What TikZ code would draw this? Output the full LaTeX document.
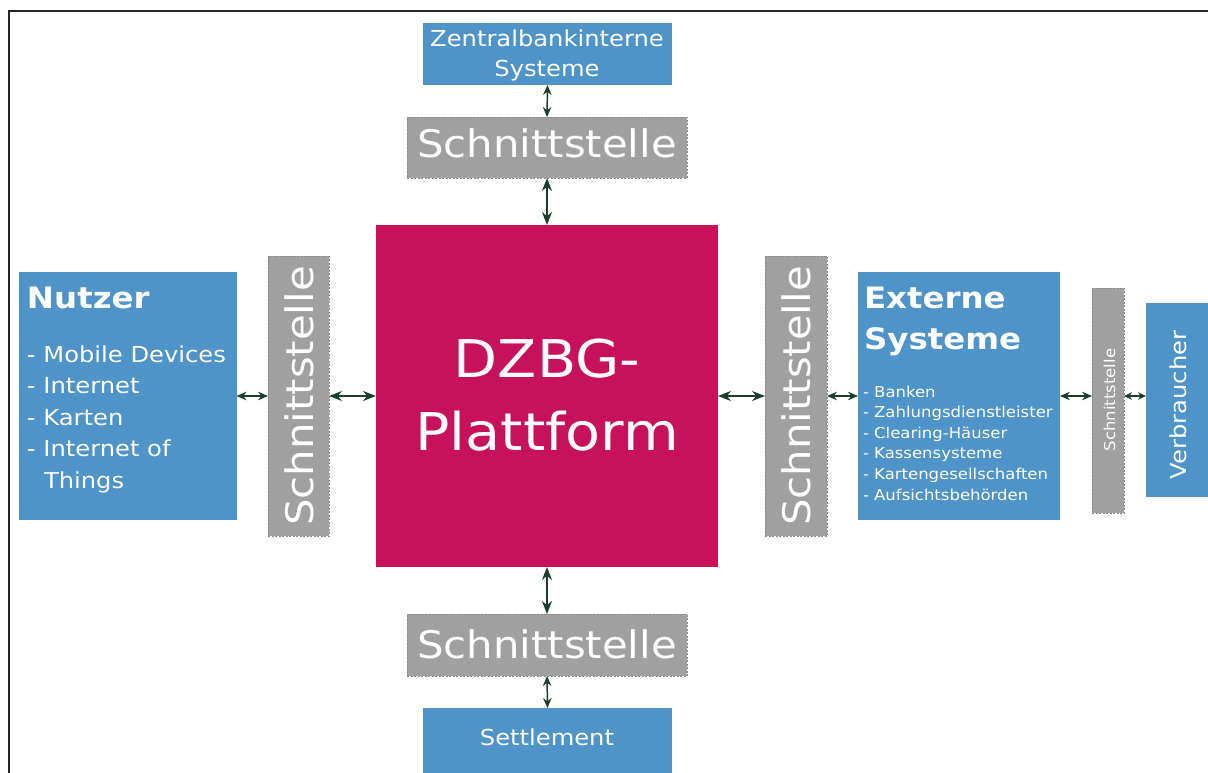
\documentclass[tikz,border=0pt]{standalone}
\usepackage{fontspec}
\setmainfont{DejaVu Sans}[FakeStretch=1.1]
\usetikzlibrary{arrows.meta}

\definecolor{boxblue}{HTML}{4F94C8}
\definecolor{ifgray}{HTML}{A0A0A0}
\definecolor{ifedge}{HTML}{8A8A8A}
\definecolor{platform}{HTML}{C7115A}
\definecolor{linkgreen}{HTML}{1B3F2A}

\tikzset{
  bluebox/.style={rectangle, fill=boxblue, draw=none, inner sep=0pt, outer sep=0pt},
  ifbox/.style={rectangle, fill=ifgray, draw=ifedge, line width=0.7pt,
                dash pattern=on 2pt off 1.5pt, inner sep=0pt, outer sep=0pt},
  corebox/.style={rectangle, fill=platform, draw=none, inner sep=0pt, outer sep=0pt},
  lbl/.style={text=white, inner sep=0pt, outer sep=0pt},
  fs/.style={font=\fontsize{#1}{#1}\selectfont},
  bfs/.style={font=\fontsize{#1}{#1}\selectfont\bfseries},
  longlink/.style={draw=linkgreen, line width=1.7pt,
                   {Stealth[length=13pt,width=10pt]}-{Stealth[length=13pt,width=10pt]}},
  shortlink/.style={draw=linkgreen, line width=1.5pt,
                   {Stealth[length=10pt,width=8.5pt]}-{Stealth[length=10pt,width=8.5pt]}},
  tinylink/.style={draw=linkgreen, line width=1.4pt,
                   {Stealth[length=8pt,width=7.5pt]}-{Stealth[length=8pt,width=7.5pt]}},
}

\begin{document}
\begin{tikzpicture}[x=1pt,y=-1pt]
\useasboundingbox (0,0) rectangle (1208,773);

% frame lines
\draw[line width=2pt, black!85] (8.5,773) -- (8.5,11.5) -- (1208,11.5);

% boxes
\node[bluebox, minimum width=249pt, minimum height=62pt] (zentral) at (547.5,54) {};
\node[ifbox, minimum width=280pt, minimum height=61pt] (tsch) at (547,147.5) {};
\node[corebox, minimum width=342pt, minimum height=342pt] (core) at (547,396) {};
\node[ifbox, minimum width=280pt, minimum height=62pt] (bsch) at (547,645) {};
\node[bluebox, minimum width=249pt, minimum height=70pt] (settle) at (547.5,743) {};

\node[bluebox, minimum width=218pt, minimum height=248pt] (nutzer) at (127.5,396) {};
\node[ifbox, minimum width=61pt, minimum height=280pt] (lsch) at (298.5,396) {};
\node[ifbox, minimum width=62pt, minimum height=280pt] (rsch) at (796,396) {};
\node[bluebox, minimum width=202pt, minimum height=248pt] (ext) at (959,396) {};
\node[ifbox, minimum width=32pt, minimum height=225pt] (ssch) at (1108,400.5) {};
\node[bluebox, minimum width=64pt, minimum height=194pt] (verb) at (1178,400) {};

% labels
\node[lbl, fs=22, anchor=base] (zt1) at (547,47) {Zentralbankinterne};
\node[lbl, fs=22, anchor=base] (zt2) at (547,77) {Systeme};
\node[lbl, fs=38, anchor=base] (tst) at (547,158) {Schnittstelle};
\node[lbl, fs=52, anchor=base] (ct1) at (547,377) {DZBG-};
\node[lbl, fs=52, anchor=base] (ct2) at (547,450) {Plattform};
\node[lbl, fs=38, anchor=base] (bst) at (547,658) {Schnittstelle};
\node[lbl, fs=22, anchor=base] (set) at (547,745) {Settlement};

\node[lbl, bfs=29.5, anchor=base west] (nt) at (27,308) {Nutzer};
\node[lbl, fs=22, anchor=base west] (n1) at (27,362) {- Mobile Devices};
\node[lbl, fs=22, anchor=base west] (n2) at (27,393.5) {- Internet};
\node[lbl, fs=22, anchor=base west] (n3) at (27,425) {- Karten};
\node[lbl, fs=22, anchor=base west] (n4) at (27,456.5) {- Internet of};
\node[lbl, fs=22, anchor=base west] (n5) at (44,488) {Things};

\node[lbl, bfs=29.5, anchor=base west] (et1) at (864,308) {Externe};
\node[lbl, bfs=29.5, anchor=base west] (et2) at (864,349) {Systeme};
\node[lbl, fs=15, anchor=base west] (e1) at (863,397) {- Banken};
\node[lbl, fs=15, anchor=base west] (e2) at (863,417.6) {- Zahlungsdienstleister};
\node[lbl, fs=15, anchor=base west] (e3) at (863,438.2) {- Clearing-Häuser};
\node[lbl, fs=15, anchor=base west] (e4) at (863,458.8) {- Kassensysteme};
\node[lbl, fs=15, anchor=base west] (e5) at (863,479.4) {- Kartengesellschaften};
\node[lbl, fs=15, anchor=base west] (e6) at (863,500) {- Aufsichtsbehörden};

\node[lbl, fs=38, anchor=base, rotate=90] (lst) at (313,396) {Schnittstelle};
\node[lbl, fs=38, anchor=base, rotate=90] (rst) at (810,396) {Schnittstelle};
\node[lbl, fs=15, anchor=base, rotate=90] (sst) at (1115,400) {Schnittstelle};
\node[lbl, fs=22, anchor=base, rotate=90] (vt) at (1186,405) {Verbraucher};

% links
\draw[shortlink] (zentral.south) -- (tsch.north);
\draw[longlink] (tsch.south) -- (core.north);
\draw[longlink] (core.south) -- (bsch.north);
\draw[shortlink] (bsch.south) -- (settle.north);

\draw[shortlink] (nutzer.east) -- (lsch.west);
\draw[longlink] (lsch.east) -- (core.west);
\draw[longlink] (core.east) -- (rsch.west);
\draw[shortlink] (rsch.east) -- (ext.west);
\draw[shortlink] (ext.east) -- (ext.east -| ssch.west);
\draw[tinylink] (ssch.east |- ext.east) -- (ext.east -| verb.west);
\end{tikzpicture}
\end{document}
